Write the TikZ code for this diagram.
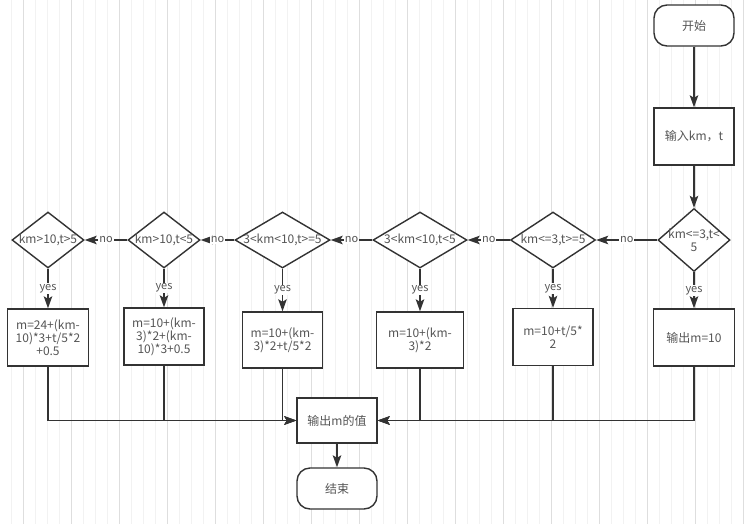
\documentclass[tikz,border=0pt]{standalone}
\usepackage{fontspec}
\setmainfont{Noto Sans CJK SC}
\usetikzlibrary{shapes.geometric,arrows.meta}

\begin{document}
\begin{tikzpicture}[x=1pt,y=-1pt,
  font=\fontsize{12}{13}\selectfont,
  box/.style={draw=lineDark, line width=1.4pt, fill=white, align=center, text=txtGray,
    inner sep=0pt, minimum width=80, minimum height=57},
  term/.style={box, rounded corners=13, minimum height=41},
  cond/.style={draw=lineDark, line width=1.4pt, fill=white, diamond, inner sep=0pt,
    minimum height=56},
  every label/.style={text=txtGray, align=center},
  lbl/.style={fill=white, text=txtGray, font=\fontsize{11}{12}\selectfont, inner sep=1pt},
  arr/.style={draw=lineDark, line width=1.4pt, -{Stealth[length=12pt,width=8.5pt,inset=2.5pt]}}]

% Colori
\definecolor{lineDark}{HTML}{333333}
\definecolor{txtGray}{HTML}{555555}
\definecolor{gridMinor}{HTML}{F2F2F2}
\definecolor{gridMajor}{HTML}{DEDEDE}

% Sfondo a griglia
\useasboundingbox (0,0) rectangle (755,523);
\clip (0,0) rectangle (755,523);
\fill[white] (0,0) rectangle (755,523);
\begin{scope}[shift={(11,6)}]
  \draw[gridMinor, line width=0.6pt, step=12] (-12,-12) grid (756,528);
\end{scope}
\begin{scope}[shift={(23,42)}]
  \draw[gridMajor, line width=0.8pt, step=48] (-48,-48) grid (768,528);
\end{scope}

% Inizio e input
\node[term] (start) at (694,25.5) {开始};
\node[box] (input) at (694,136.5) {输入km，t};

% Condizioni
\node[cond, minimum width=72, minimum height=63, label={center:{km<=3,t<\\5}}] (c1) at (694,240) {};
\node[cond, minimum width=85, label={center:{km<=3,t>=5}}] (c2) at (553,240) {};
\node[cond, minimum width=94, label={center:{3<km<10,t<5}}] (c3) at (420,240) {};
\node[cond, minimum width=95, label={center:{3<km<10,t>=5}}] (c4) at (282.5,240) {};
\node[cond, minimum width=72, label={center:{km>10,t<5}}] (c5) at (164,240) {};
\node[cond, minimum width=72, label={center:{km>10,t>5}}] (c6) at (48,240) {};

% Calcoli
\node[box, minimum width=81] (b1) at (694,337.5) {输出m=10};
\node[box] (b2) at (553,337) {m=10+t/5*\\2};
\node[box, minimum width=87, minimum height=56] (b3) at (420,340) {m=10+(km-\\3)*2};
\node[box, minimum height=56] (b4) at (282.5,340) {m=10+(km-\\3)*2+t/5*2};
\node[box] (b5) at (164,336.5) {m=10+(km-\\3)*2+(km-\\10)*3+0.5};
\node[box, minimum width=81] (b6) at (48,337.5) {m=24+(km-\\10)*3+t/5*2\\+0.5};

% Uscita e fine
\node[box, minimum height=45] (out) at (337,420.5) {输出m的值};
\node[term] (end) at (337,488.5) {结束};

% Collegamenti
\draw[arr] (start) -- (input);
\draw[arr] (input) -- (c1);
\draw[arr] (c1) -- node[lbl] {no} (c2);
\draw[arr] (c2) -- node[lbl] {no} (c3);
\draw[arr] (c3) -- node[lbl] {no} (c4);
\draw[arr] (c4) -- node[lbl] {no} (c5);
\draw[arr] (c5) -- node[lbl] {no} (c6);
\foreach \i in {1,...,6}
  \draw[arr] (c\i) -- node[lbl] {yes} (b\i);
\foreach \i in {1,...,6}
  \draw[arr] (b\i) |- (out);
\draw[arr] (out) -- (end);

\end{tikzpicture}
\end{document}
